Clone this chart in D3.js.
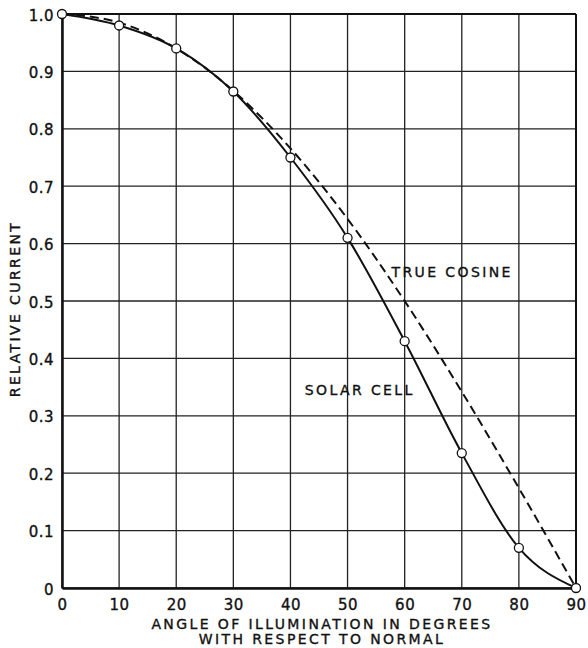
<!DOCTYPE html>
<html>
<head>
<meta charset="utf-8">
<script src="https://cdn.jsdelivr.net/npm/d3@7"></script>
<style>
  body { margin: 0; background: #fff; }
  text { font-family: "DejaVu Sans", sans-serif; fill: #111; stroke: #111; stroke-width: 0.35px; }
</style>
</head>
<body>
<div id="chart"></div>
<script>
// data
var angles = [0, 10, 20, 30, 40, 50, 60, 70, 80, 90];
var solarCell = [1.0, 0.98, 0.94, 0.865, 0.75, 0.61, 0.43, 0.235, 0.07, 0.0];
var trueCosine = [1.0, 0.985, 0.94, 0.866, 0.766, 0.643, 0.5, 0.342, 0.174, 0.0];
var yTicks = [0, 0.1, 0.2, 0.3, 0.4, 0.5, 0.6, 0.7, 0.8, 0.9, 1.0];
var yTickLabels = ["0", "0.1", "0.2", "0.3", "0.4", "0.5", "0.6", "0.7", "0.8", "0.9", "1.0"];

var margin = {top: 14, right: 12, bottom: 60, left: 62},
    width = 588 - margin.left - margin.right,
    height = 648 - margin.top - margin.bottom;

var svg = d3.select("#chart")
  .append("svg")
    .attr("width", 588)
    .attr("height", 648)
  .append("g")
    .attr("transform", "translate(" + margin.left + "," + margin.top + ")");

var x = d3.scaleLinear().domain([0, 90]).range([0, width]);
var y = d3.scaleLinear().domain([0, 1]).range([height, 0]);

// grid
svg.append("g")
  .selectAll("line")
  .data(angles)
  .enter().append("line")
    .attr("x1", function(d) { return x(d); })
    .attr("x2", function(d) { return x(d); })
    .attr("y1", 0).attr("y2", height)
    .attr("stroke", "#222")
    .attr("stroke-width", 1.3);

svg.append("g")
  .selectAll("line")
  .data(yTicks)
  .enter().append("line")
    .attr("y1", function(d) { return y(d); })
    .attr("y2", function(d) { return y(d); })
    .attr("x1", 0).attr("x2", width)
    .attr("stroke", "#222")
    .attr("stroke-width", 1.3);

// axes
var xAxis = svg.append("g")
  .attr("transform", "translate(0," + height + ")")
  .call(d3.axisBottom(x).tickValues(angles).tickSize(0).tickPadding(11));
var yAxis = svg.append("g")
  .call(d3.axisLeft(y).tickValues(yTicks).tickSize(0).tickPadding(8)
    .tickFormat(function(d, i) { return yTickLabels[i]; }));

[xAxis, yAxis].forEach(function(a) {
  a.select(".domain").attr("stroke", "#111").attr("stroke-width", 2.5);
  a.selectAll("text")
    .style("font-family", "DejaVu Sans, sans-serif")
    .style("font-size", "15px")
    .style("letter-spacing", "0.5px")
    .attr("fill", "#111");
});
yAxis.selectAll("text").attr("dy", "0.4em");

// top and right frame
svg.append("line").attr("x1", 0).attr("x2", width).attr("y1", 0).attr("y2", 0)
  .attr("stroke", "#111").attr("stroke-width", 2);
svg.append("line").attr("x1", width).attr("x2", width).attr("y1", 0).attr("y2", height)
  .attr("stroke", "#111").attr("stroke-width", 2);

// curves
var line = d3.line()
  .x(function(d) { return x(d[0]); })
  .y(function(d) { return y(d[1]); })
  .curve(d3.curveMonotoneX);

svg.append("path")
  .datum(angles.map(function(a, i) { return [a, trueCosine[i]]; }))
  .attr("d", line)
  .attr("fill", "none")
  .attr("stroke", "#111")
  .attr("stroke-width", 2)
  .attr("stroke-dasharray", "9,5");

var solarData = angles.map(function(a, i) { return [a, solarCell[i]]; });
svg.append("path")
  .datum(solarData)
  .attr("d", line)
  .attr("fill", "none")
  .attr("stroke", "#111")
  .attr("stroke-width", 2);

svg.selectAll("circle")
  .data(solarData)
  .enter().append("circle")
    .attr("cx", function(d) { return x(d[0]); })
    .attr("cy", function(d) { return y(d[1]); })
    .attr("r", 4.5)
    .attr("fill", "#fff")
    .attr("stroke", "#111")
    .attr("stroke-width", 1.3);

// labels
var labelStyle = function(t) {
  t.style("font-size", "14px").style("letter-spacing", "2.4px");
};
svg.append("text")
  .attr("x", x(57.7)).attr("y", y(0.542))
  .call(labelStyle)
  .text("TRUE COSINE");
svg.append("text")
  .attr("x", x(42.5)).attr("y", y(0.337))
  .call(labelStyle)
  .text("SOLAR CELL");

svg.append("text")
  .attr("transform", "translate(" + (-42) + "," + (height / 2 + 8) + ")rotate(-90)")
  .style("text-anchor", "middle")
  .call(labelStyle)
  .text("RELATIVE CURRENT");

svg.append("text")
  .attr("x", width / 2 + 3).attr("y", height + 41)
  .style("text-anchor", "middle")
  .call(labelStyle)
  .text("ANGLE OF ILLUMINATION IN DEGREES");
svg.append("text")
  .attr("x", width / 2 + 3).attr("y", height + 56)
  .style("text-anchor", "middle")
  .call(labelStyle)
  .text("WITH RESPECT TO NORMAL");
</script>
</body>
</html>
